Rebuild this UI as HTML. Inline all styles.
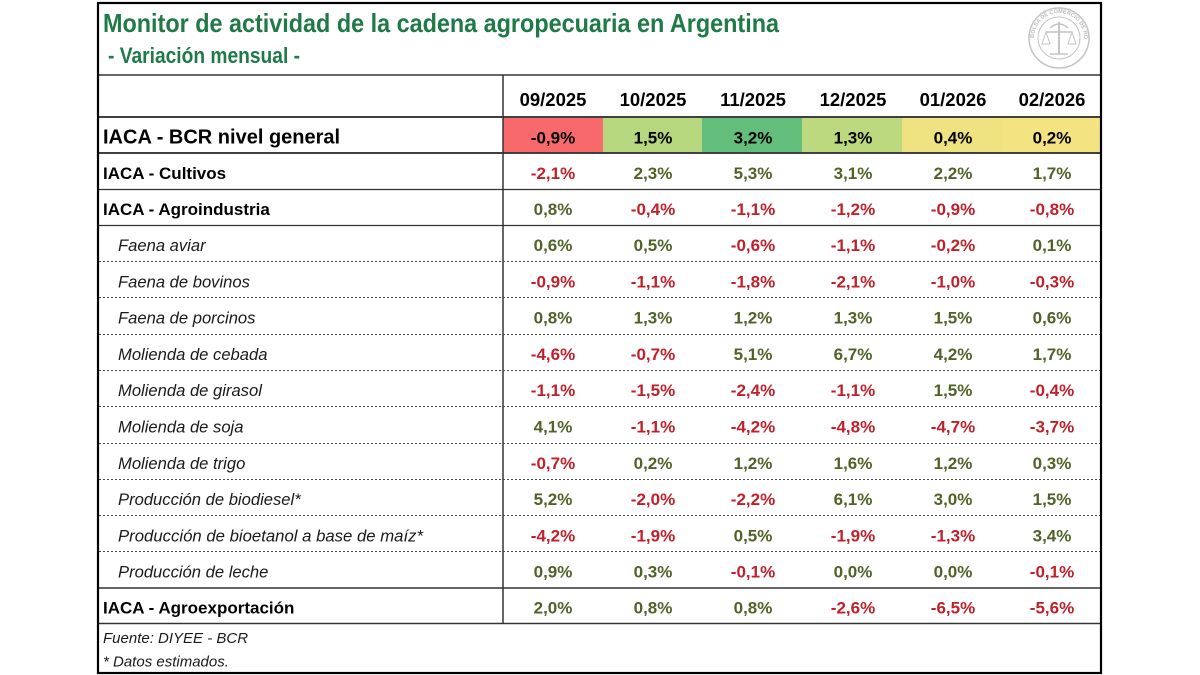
<!DOCTYPE html>
<html>
<head>
<meta charset="utf-8">
<style>
html,body{margin:0;padding:0;background:#fff;}
body{width:1200px;height:675px;overflow:hidden;}
svg{display:block;}
text{font-family:"Liberation Sans",Arial,sans-serif;}
.t{font-weight:bold;fill:#1f7a47;}
.hd{font-weight:bold;font-size:18.5px;fill:#000;text-anchor:middle;}
.lb{font-weight:bold;font-size:17px;fill:#000;}
.it{font-style:italic;font-size:16.6px;fill:#1a1a1a;}
.v{font-weight:bold;font-size:17px;text-anchor:middle;}
.g{fill:#4f6228;}
.r{fill:#c0202a;}
.k{fill:#000;}
.ft{font-style:italic;font-size:15px;fill:#1a1a1a;}
</style>
</head>
<body>
<svg width="1200" height="675" viewBox="0 0 1200 675" xmlns="http://www.w3.org/2000/svg">
<rect x="0" y="0" width="1200" height="675" fill="#fff"/>

<!-- colored cells general row -->
<rect x="503" y="118" width="100" height="35" fill="#f8696b"/>
<rect x="603" y="118" width="99" height="35" fill="#b7d77e"/>
<rect x="702" y="118" width="100" height="35" fill="#63be7b"/>
<rect x="802" y="118" width="100" height="35" fill="#bcd97f"/>
<rect x="902" y="118" width="100" height="35" fill="#efe381"/>
<rect x="1002" y="118" width="99" height="35" fill="#f4e481"/>

<!-- lines -->
<g stroke="#333" fill="none">
<line x1="98" y1="75" x2="1101" y2="75" stroke-width="1.5"/>
<line x1="98" y1="117" x2="1101" y2="117" stroke-width="2" stroke="#404040"/>
<line x1="98" y1="153" x2="1101" y2="153" stroke-width="2" stroke="#404040"/>
<line x1="98" y1="189.5" x2="1101" y2="189.5" stroke-width="1.2"/>
<line x1="98" y1="225.5" x2="1101" y2="225.5" stroke-width="1.2"/>
<line x1="98" y1="588" x2="1101" y2="588" stroke-width="1.5"/>
<line x1="98" y1="623.5" x2="1101" y2="623.5" stroke-width="1.5"/>
<line x1="503" y1="75" x2="503" y2="623.5" stroke-width="1.5"/>
</g>
<g stroke="#444" stroke-width="1" stroke-dasharray="2 2" fill="none">
<line x1="99" y1="261.5" x2="1100" y2="261.5"/>
<line x1="99" y1="297.5" x2="1100" y2="297.5"/>
<line x1="99" y1="334.5" x2="1100" y2="334.5"/>
<line x1="99" y1="370.5" x2="1100" y2="370.5"/>
<line x1="99" y1="406.5" x2="1100" y2="406.5"/>
<line x1="99" y1="443.5" x2="1100" y2="443.5"/>
<line x1="99" y1="479.5" x2="1100" y2="479.5"/>
<line x1="99" y1="515.5" x2="1100" y2="515.5"/>
<line x1="99" y1="551.5" x2="1100" y2="551.5"/>
</g>

<!-- outer border -->
<rect x="98" y="3" width="1003" height="670" fill="none" stroke="#000" stroke-width="2.2"/>

<!-- logo -->
<g fill="none" stroke="#c4c4c4">
<circle cx="1059" cy="38" r="30" stroke-width="1.5"/>
<circle cx="1059" cy="38" r="21" stroke-width="1"/>
<line x1="1059" y1="22" x2="1059" y2="54" stroke-width="2"/>
<line x1="1046" y1="32" x2="1072" y2="32" stroke-width="1.5"/>
<path d="M1046 32 L1042 44 L1050 44 Z M1072 32 L1068 44 L1076 44 Z" stroke-width="1"/>
<path d="M1050 28 Q1059 20 1068 28" stroke-width="1.5"/>
<line x1="1050" y1="54" x2="1068" y2="54" stroke-width="1.5"/>
</g>
<defs><path id="arc" d="M1034 38 A25 25 0 1 1 1084 38"/></defs>
<text font-size="5.5" fill="#bbb" font-weight="bold"><textPath href="#arc">BOLSA DE COMERCIO DE ROSARIO</textPath></text>

<!-- title -->
<text class="t" x="103" y="32" style="font-size:26px" textLength="676" lengthAdjust="spacingAndGlyphs">Monitor de actividad de la cadena agropecuaria en Argentina</text>
<text class="t" x="108" y="63" style="font-size:22px" textLength="192" lengthAdjust="spacingAndGlyphs">- Variación mensual -</text>

<!-- header -->
<text class="hd" x="553" y="106">09/2025</text>
<text class="hd" x="653" y="106">10/2025</text>
<text class="hd" x="753" y="106">11/2025</text>
<text class="hd" x="853" y="106">12/2025</text>
<text class="hd" x="953" y="106">01/2026</text>
<text class="hd" x="1052" y="106">02/2026</text>

<!-- general row -->
<text class="lb" x="103" y="143.5" style="font-size:20px">IACA - BCR nivel general</text>
<text class="v k" x="553" y="143.5">-0,9%</text>
<text class="v k" x="653" y="143.5">1,5%</text>
<text class="v k" x="753" y="143.5">3,2%</text>
<text class="v k" x="853" y="143.5">1,3%</text>
<text class="v k" x="953" y="143.5">0,4%</text>
<text class="v k" x="1052" y="143.5">0,2%</text>

<!-- Cultivos -->
<text class="lb" x="103" y="179">IACA - Cultivos</text>
<text class="v r" x="553" y="179">-2,1%</text>
<text class="v g" x="653" y="179">2,3%</text>
<text class="v g" x="753" y="179">5,3%</text>
<text class="v g" x="853" y="179">3,1%</text>
<text class="v g" x="953" y="179">2,2%</text>
<text class="v g" x="1052" y="179">1,7%</text>

<!-- Agroindustria -->
<text class="lb" x="103" y="215">IACA - Agroindustria</text>
<text class="v g" x="553" y="215">0,8%</text>
<text class="v r" x="653" y="215">-0,4%</text>
<text class="v r" x="753" y="215">-1,1%</text>
<text class="v r" x="853" y="215">-1,2%</text>
<text class="v r" x="953" y="215">-0,9%</text>
<text class="v r" x="1052" y="215">-0,8%</text>

<!-- sub rows -->
<text class="it" x="118" y="251">Faena aviar</text>
<text class="v g" x="553" y="251">0,6%</text>
<text class="v g" x="653" y="251">0,5%</text>
<text class="v r" x="753" y="251">-0,6%</text>
<text class="v r" x="853" y="251">-1,1%</text>
<text class="v r" x="953" y="251">-0,2%</text>
<text class="v g" x="1052" y="251">0,1%</text>

<text class="it" x="118" y="287.3">Faena de bovinos</text>
<text class="v r" x="553" y="287.3">-0,9%</text>
<text class="v r" x="653" y="287.3">-1,1%</text>
<text class="v r" x="753" y="287.3">-1,8%</text>
<text class="v r" x="853" y="287.3">-2,1%</text>
<text class="v r" x="953" y="287.3">-1,0%</text>
<text class="v r" x="1052" y="287.3">-0,3%</text>

<text class="it" x="118" y="323.6">Faena de porcinos</text>
<text class="v g" x="553" y="323.6">0,8%</text>
<text class="v g" x="653" y="323.6">1,3%</text>
<text class="v g" x="753" y="323.6">1,2%</text>
<text class="v g" x="853" y="323.6">1,3%</text>
<text class="v g" x="953" y="323.6">1,5%</text>
<text class="v g" x="1052" y="323.6">0,6%</text>

<text class="it" x="118" y="359.9">Molienda de cebada</text>
<text class="v r" x="553" y="359.9">-4,6%</text>
<text class="v r" x="653" y="359.9">-0,7%</text>
<text class="v g" x="753" y="359.9">5,1%</text>
<text class="v g" x="853" y="359.9">6,7%</text>
<text class="v g" x="953" y="359.9">4,2%</text>
<text class="v g" x="1052" y="359.9">1,7%</text>

<text class="it" x="118" y="396.2">Molienda de girasol</text>
<text class="v r" x="553" y="396.2">-1,1%</text>
<text class="v r" x="653" y="396.2">-1,5%</text>
<text class="v r" x="753" y="396.2">-2,4%</text>
<text class="v r" x="853" y="396.2">-1,1%</text>
<text class="v g" x="953" y="396.2">1,5%</text>
<text class="v r" x="1052" y="396.2">-0,4%</text>

<text class="it" x="118" y="432.5">Molienda de soja</text>
<text class="v g" x="553" y="432.5">4,1%</text>
<text class="v r" x="653" y="432.5">-1,1%</text>
<text class="v r" x="753" y="432.5">-4,2%</text>
<text class="v r" x="853" y="432.5">-4,8%</text>
<text class="v r" x="953" y="432.5">-4,7%</text>
<text class="v r" x="1052" y="432.5">-3,7%</text>

<text class="it" x="118" y="468.8">Molienda de trigo</text>
<text class="v r" x="553" y="468.8">-0,7%</text>
<text class="v g" x="653" y="468.8">0,2%</text>
<text class="v g" x="753" y="468.8">1,2%</text>
<text class="v g" x="853" y="468.8">1,6%</text>
<text class="v g" x="953" y="468.8">1,2%</text>
<text class="v g" x="1052" y="468.8">0,3%</text>

<text class="it" x="118" y="505.1">Producción de biodiesel*</text>
<text class="v g" x="553" y="505.1">5,2%</text>
<text class="v r" x="653" y="505.1">-2,0%</text>
<text class="v r" x="753" y="505.1">-2,2%</text>
<text class="v g" x="853" y="505.1">6,1%</text>
<text class="v g" x="953" y="505.1">3,0%</text>
<text class="v g" x="1052" y="505.1">1,5%</text>

<text class="it" x="118" y="541.4" textLength="305" lengthAdjust="spacingAndGlyphs">Producción de bioetanol a base de maíz*</text>
<text class="v r" x="553" y="541.4">-4,2%</text>
<text class="v r" x="653" y="541.4">-1,9%</text>
<text class="v g" x="753" y="541.4">0,5%</text>
<text class="v r" x="853" y="541.4">-1,9%</text>
<text class="v r" x="953" y="541.4">-1,3%</text>
<text class="v g" x="1052" y="541.4">3,4%</text>

<text class="it" x="118" y="577.7">Producción de leche</text>
<text class="v g" x="553" y="577.7">0,9%</text>
<text class="v g" x="653" y="577.7">0,3%</text>
<text class="v r" x="753" y="577.7">-0,1%</text>
<text class="v g" x="853" y="577.7">0,0%</text>
<text class="v g" x="953" y="577.7">0,0%</text>
<text class="v r" x="1052" y="577.7">-0,1%</text>

<!-- Agroexportación -->
<text class="lb" x="103" y="613.5">IACA - Agroexportación</text>
<text class="v g" x="553" y="613.5">2,0%</text>
<text class="v g" x="653" y="613.5">0,8%</text>
<text class="v g" x="753" y="613.5">0,8%</text>
<text class="v r" x="853" y="613.5">-2,6%</text>
<text class="v r" x="953" y="613.5">-6,5%</text>
<text class="v r" x="1052" y="613.5">-5,6%</text>

<!-- footer -->
<text class="ft" x="103" y="643">Fuente: DIYEE - BCR</text>
<text class="ft" x="103" y="666.5">* Datos estimados.</text>
</svg>
</body>
</html>
